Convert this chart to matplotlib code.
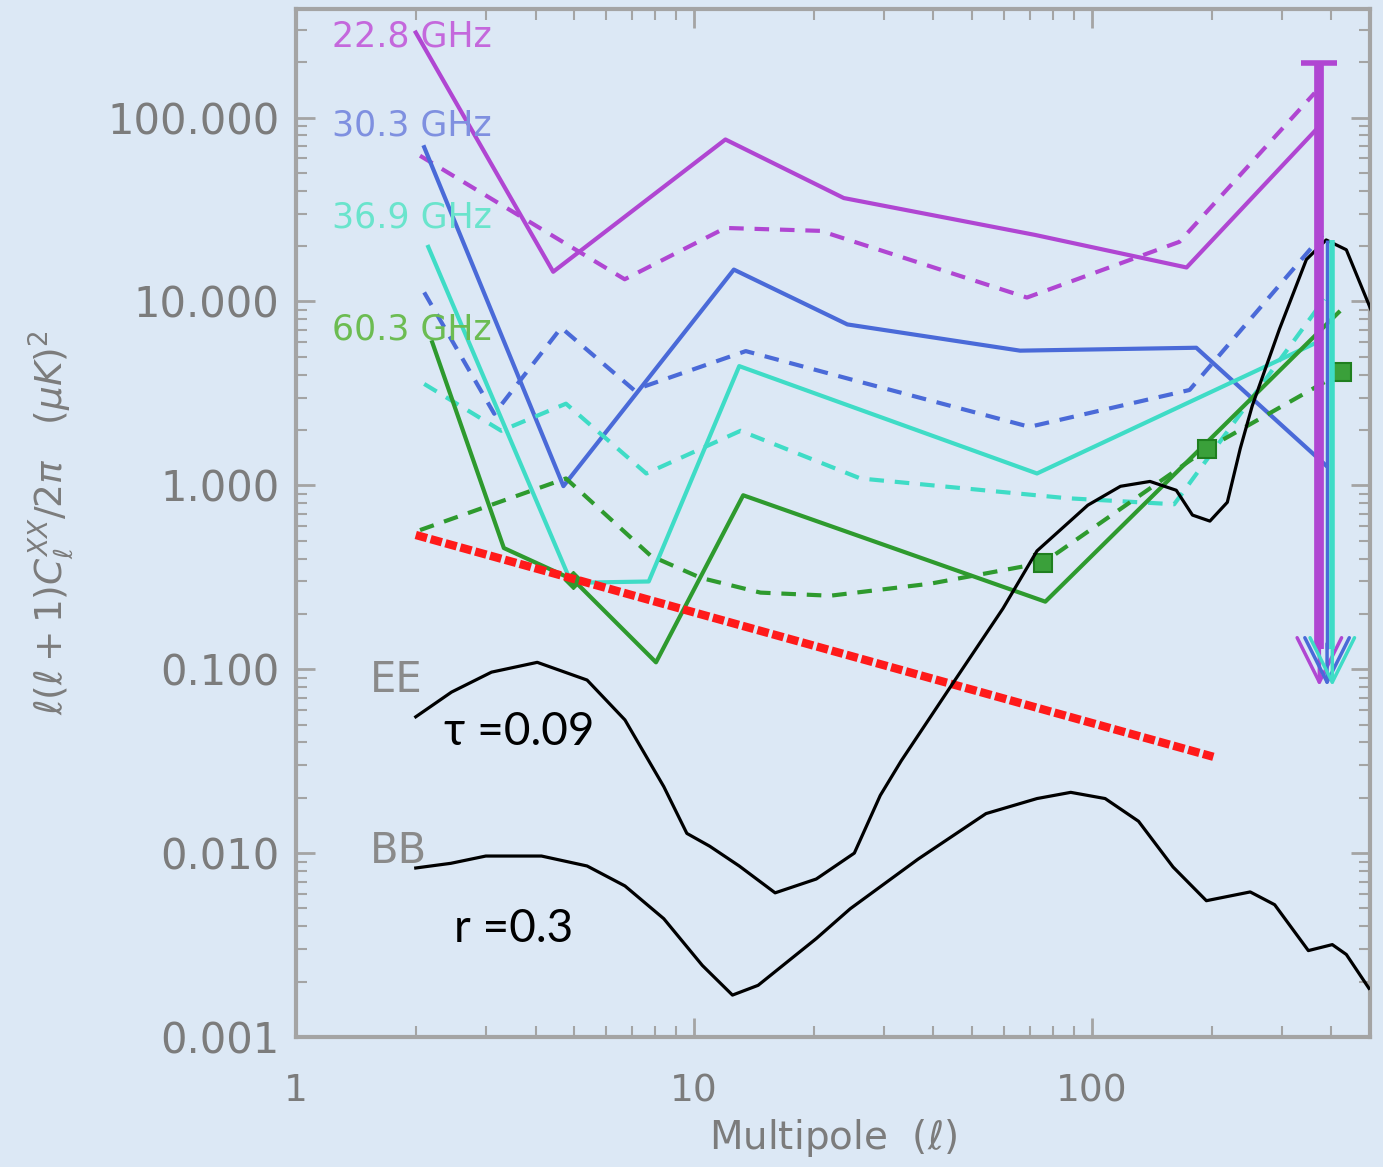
import matplotlib
matplotlib.use('Agg')
import matplotlib.pyplot as plt
from matplotlib.ticker import FixedLocator, FormatStrFormatter, LogLocator, NullFormatter, FuncFormatter

# foreground spectra per channel, solid and dashed
l_s22 = [2.0, 4.43, 12.0, 23.8, 72, 173, 368]
c_s22 = [290, 14.5, 76, 36.5, 23.0, 15.3, 87]
l_d22 = [2.05, 6.7, 12.0, 20.8, 68.7, 166, 363]
c_d22 = [62, 13.2, 25.1, 24.2, 10.5, 21.1, 136]

l_s30 = [2.1, 4.7, 12.6, 24.3, 66, 183, 388]
c_s30 = [69, 0.99, 14.9, 7.5, 5.4, 5.6, 1.28]
l_d30 = [2.1, 3.15, 4.64, 7.07, 13.5, 26.2, 69.7, 176, 380]
c_d30 = [11.2, 2.45, 7.2, 3.3, 5.37, 3.65, 2.08, 3.3, 23]

l_s36 = [2.15, 4.92, 7.7, 13.0, 72.8, 360]
c_s36 = [19.8, 0.295, 0.30, 4.45, 1.16, 5.86]
l_d36 = [2.1, 3.28, 4.77, 7.59, 13.1, 26.2, 86.7, 161, 384]
c_d36 = [3.56, 1.98, 2.78, 1.16, 1.98, 1.09, 0.851, 0.789, 10.3]

l_s60 = [2.2, 3.33, 4.98, 8.03, 13.3, 76.4, 417]
c_s60 = [6.0, 0.456, 0.306, 0.109, 0.883, 0.233, 8.72]
l_d60 = [2.05, 4.77, 7.8, 10.4, 14.7, 22.0, 39.3, 75.4, 195, 426]
c_d60 = [0.571, 1.09, 0.413, 0.314, 0.261, 0.251, 0.292, 0.379, 1.585, 4.13]
sq_l = [75.4, 195, 426]
sq_c = [0.379, 1.585, 4.13]

# dust line
l_dust = [2, 202]
c_dust = [0.537, 0.0334]

# theory EE (tau=0.09) and BB (r=0.3)
ee_l = [2.0, 2.46, 3.1, 4.04, 5.39, 6.71, 8.4, 9.6, 10.96, 13.0, 16.0, 20.3, 25.3, 29.4, 33.2,
        44.6, 59.8, 72.8, 97.7, 118, 140, 163, 179, 198, 219, 236, 253, 296, 346, 388, 436, 506]
ee_c = [0.0551, 0.0751, 0.0964, 0.109, 0.0873, 0.053, 0.023, 0.0128, 0.0109, 0.00851, 0.00608,
        0.00723, 0.01, 0.0206, 0.0318, 0.083, 0.214, 0.44, 0.78, 0.988, 1.05, 0.94, 0.689, 0.639,
        0.809, 1.585, 2.71, 7.06, 16.9, 21.6, 19.1, 8.72]
bb_l = [2.0, 2.45, 3.0, 4.14, 5.39, 6.71, 8.4, 10.5, 12.5, 14.5, 20.3, 24.7, 36.6, 54.2, 72.8,
        88.5, 108, 131, 160, 194, 250, 288, 350, 402, 436, 497]
bb_c = [0.0083, 0.0088, 0.00964, 0.00964, 0.00851, 0.00663, 0.0044, 0.00245, 0.00169, 0.00191,
        0.00343, 0.00498, 0.00928, 0.0164, 0.0198, 0.0214, 0.0198, 0.0149, 0.0084, 0.00551,
        0.00615, 0.00524, 0.00295, 0.00318, 0.00281, 0.00184]

# upper limits at high l
lim_l = [373, 390, 402]
lim_top = [198, 21.6, 21.6]
lim_bot = 0.081

c22, c30, c36, c60 = '#b046d2', '#4a6ad8', '#3fdcc6', '#2e9a2e'
bg = '#dce8f5'
grey = '#7c7c7c'

fig = plt.figure(figsize=(13.83, 11.67), dpi=100, facecolor=bg)
ax = fig.add_axes([0.214, 0.1114, 0.7766, 0.881])
ax.set_facecolor(bg)
ax.set_xscale('log')
ax.set_yscale('log')

dash = (3.5, 2.6)
ax.plot(l_s22, c_s22, color=c22, lw=3)
ax.plot(l_d22, c_d22, color=c22, lw=3, dashes=dash)
ax.plot(l_s30, c_s30, color=c30, lw=3)
ax.plot(l_d30, c_d30, color=c30, lw=3, dashes=dash)
ax.plot(l_s36, c_s36, color=c36, lw=3)
ax.plot(l_d36, c_d36, color=c36, lw=3, dashes=dash)
ax.plot(l_s60, c_s60, color=c60, lw=3)
ax.plot(l_d60, c_d60, color=c60, lw=3, dashes=dash)
ax.plot(sq_l, sq_c, ls='none', marker='s', ms=13, mfc='#3aa03a', mec='#1f7f1f', mew=1.5)
ax.plot([l_s60[2]], [c_s60[2]], ls='none', marker='D', ms=9, color=c60)

ax.plot(l_dust, c_dust, color='#ff1a1a', lw=6, dashes=(1.4, 0.45))

ax.plot(ee_l, ee_c, color='black', lw=2.3, zorder=4)
ax.plot(bb_l, bb_c, color='black', lw=2.3, zorder=4)

# upper limit arrows
lim_cols = [c22, c30, c36]
lim_lw = [7, 2.5, 4]
for x, top, col, w in zip(lim_l, lim_top, lim_cols, lim_lw):
    ax.plot([x, x], [top, lim_bot * 1.6], color=col, lw=w, solid_capstyle='butt', zorder=5)
    ax.annotate('', xy=(x, lim_bot), xytext=(x, lim_bot * 1.7),
                arrowprops=dict(arrowstyle='->,head_length=1.6,head_width=0.8',
                                color=col, lw=2.5, mutation_scale=20,
                                shrinkA=0, shrinkB=0), zorder=5)
ax.plot([lim_l[0]], [lim_top[0]], marker='_', ms=26, mew=4, color=c22, zorder=5)

ax.set_xlim(1, 500)
ax.set_ylim(0.001, 390)

# labels in the plot
ax.text(1.23, 277, '22.8 GHz', color='#c468dc', fontsize=25, va='center')
ax.text(1.23, 90.5, '30.3 GHz', color='#7f90e0', fontsize=25, va='center')
ax.text(1.23, 28.5, '36.9 GHz', color='#6ae4cc', fontsize=25, va='center')
ax.text(1.23, 7.06, '60.3 GHz', color='#6cbc52', fontsize=25, va='center')
ax.text(1.53, 0.0873, 'EE', color='#8a8a8a', fontsize=30, va='center')
ax.text(1.53, 0.0103, 'BB', color='#8a8a8a', fontsize=30, va='center')
ax.text(2.36, 0.0456, '\u03c4 =0.09', color='black', fontsize=33, va='center', family='Lato')
ax.text(2.49, 0.00388, 'r =0.3', color='black', fontsize=33, va='center', family='Lato')

# axes styling
for s in ax.spines.values():
    s.set_color('#a4a4a4')
    s.set_linewidth(3)
ax.yaxis.set_major_locator(FixedLocator([0.001, 0.01, 0.1, 1, 10, 100]))
ax.yaxis.set_major_formatter(FormatStrFormatter('%.3f'))
ax.yaxis.set_minor_locator(LogLocator(base=10, subs=range(2, 10)))
ax.yaxis.set_minor_formatter(NullFormatter())
ax.xaxis.set_major_locator(FixedLocator([1, 10, 100]))
ax.xaxis.set_major_formatter(FuncFormatter(lambda v, p: '%g' % v))
ax.xaxis.set_minor_locator(LogLocator(base=10, subs=range(2, 10)))
ax.xaxis.set_minor_formatter(NullFormatter())
ax.tick_params(which='both', direction='in', top=True, right=True, color='#a4a4a4')
ax.tick_params(which='major', length=14, width=2)
ax.tick_params(which='minor', length=8, width=1.5)
ax.tick_params(axis='y', which='major', labelsize=30, labelcolor=grey, pad=12)
ax.tick_params(axis='x', which='major', labelsize=27, labelcolor=grey, pad=26)

ax.set_xlabel(r'Multipole  ($\ell$)', fontsize=28, color=grey, labelpad=6)
ax.set_ylabel(r'$\ell(\ell+1)C_\ell^{XX}/2\pi\ \ \ (\mu K)^2$', fontsize=27, color=grey, labelpad=22)

fig.savefig('out.png', dpi=100, facecolor=bg)
